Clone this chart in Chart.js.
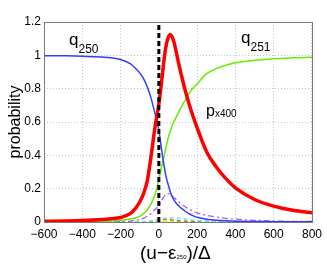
<!DOCTYPE html>
<html>
<head>
<meta charset="utf-8">
<script src="https://cdn.jsdelivr.net/npm/chart.js@4/dist/chart.umd.min.js"></script>
<style>
  body{ margin:0; background:#fff; }
  #wrap{ position:relative; width:327px; height:264px; font-family:"Liberation Sans", Arial, sans-serif; color:#000; }
  canvas{ position:absolute; left:0; top:0; }
  .lab{ position:absolute; line-height:1; white-space:nowrap; }
  .lab span{ position:relative; }
</style>
</head>
<body>
<div id="wrap">
  <canvas id="c" width="327" height="264"></canvas>
  <div class="lab" style="left:69px;top:31px;font-size:17px">q<span style="font-size:12px;top:8px">250</span></div>
  <div class="lab" style="left:241px;top:29px;font-size:17px">q<span style="font-size:12px;top:8px">251</span></div>
  <div class="lab" style="left:206px;top:103px;font-size:16px">p<span style="font-size:10px;top:1px">x400</span></div>
  <div class="lab" style="left:140px;top:243px;font-size:19px">(u−ε<span style="font-size:6px">250</span>)/Δ</div>
</div>
<script>
// u axis grid used for reading values off the picture
const uVals = [-600,-500,-400,-300,-250,-200,-150,-120,-100,-80,-60,-40,-20,0,10,20,30,40,50,60,70,80,100,120,140,160,180,200,250,300,350,400,500,600,700,800];

// p x400 (thick red)
const pX400 = [0.004,0.006,0.009,0.015,0.02,0.027,0.05,0.085,0.12,0.17,0.25,0.40,0.57,0.71,0.80,0.90,1.00,1.07,1.11,1.125,1.11,1.075,0.97,0.87,0.78,0.70,0.63,0.565,0.42,0.33,0.26,0.205,0.135,0.095,0.07,0.055];
// q250 (blue)
const q250 = [0.998,0.997,0.995,0.99,0.985,0.975,0.95,0.92,0.895,0.86,0.81,0.74,0.65,0.55,0.47,0.39,0.32,0.26,0.22,0.18,0.15,0.13,0.10,0.08,0.063,0.048,0.037,0.028,0.016,0.01,0.007,0.005,0.003,0.002,0.001,0.001];
// q251 (green)
const q251 = [0,0,0.001,0.003,0.006,0.01,0.018,0.026,0.034,0.05,0.075,0.11,0.165,0.25,0.31,0.36,0.41,0.46,0.51,0.545,0.58,0.605,0.65,0.695,0.735,0.775,0.805,0.83,0.89,0.92,0.94,0.955,0.97,0.98,0.985,0.988];
// small curves near the bottom
const purple = [0,0,0,0.001,0.001,0.002,0.005,0.01,0.015,0.022,0.035,0.05,0.075,0.10,0.12,0.14,0.158,0.168,0.17,0.165,0.155,0.145,0.125,0.105,0.09,0.075,0.065,0.055,0.04,0.03,0.022,0.017,0.01,0.006,0.004,0.003];
const cyan = [0,0,0,0,0,0,0,0,0.001,0.002,0.004,0.007,0.011,0.016,0.019,0.021,0.023,0.024,0.025,0.025,0.025,0.024,0.022,0.019,0.016,0.013,0.011,0.009,0.006,0.004,0.003,0.002,0.001,0,0,0];
const brown = [0,0,0,0,0,0,0,0,0,0.001,0.003,0.006,0.01,0.014,0.016,0.017,0.017,0.016,0.015,0.014,0.012,0.011,0.008,0.006,0.004,0.003,0.002,0.001,0,0,0,0,0,0,0,0];
const yellow = [0,0,0,0,0,0,0,0,0,0,0.001,0.001,0.002,0.003,0.003,0.004,0.004,0.004,0.004,0.004,0.004,0.004,0.004,0.004,0.004,0.003,0.003,0.003,0.003,0.002,0.002,0.002,0.002,0.001,0.001,0.001];

const zeroLineU = [0,0];
const zeroLineP = [0,1.2];

const xTicks = [-600,-400,-200,0,200,400,600,800];
const yTicks = [0,0.2,0.4,0.6,0.8,1,1.2];

function pts(ys){ return uVals.map((u,i)=>({x:u, y:ys[i]})); }
function line(label, ys, color, width, dash){
  return { label, data:pts(ys), borderColor:color, borderWidth:width, borderDash:dash||[], pointRadius:0, fill:false, cubicInterpolationMode:'monotone' };
}

const framePlugin = {
  id:'frame',
  afterDraw(chart){
    const a = chart.chartArea, ctx = chart.ctx;
    ctx.save();
    ctx.strokeStyle = '#7a7a7a'; ctx.lineWidth = 1;
    ctx.strokeRect(Math.round(a.left)+0.5, Math.round(a.top)+0.5, Math.round(a.right-a.left), Math.round(a.bottom-a.top));
    ctx.restore();
  }
};

new Chart(document.getElementById('c').getContext('2d'), {
  type:'line',
  data:{
    datasets:[
      { label:'zero', data:zeroLineU.map((u,i)=>({x:u,y:zeroLineP[i]})), borderColor:'#000', borderWidth:3, borderDash:[5,3], pointRadius:0, fill:false },
      line('p x400', pX400, '#ff0000', 3.5),
      line('q250', q250, '#2f3fff', 1.5),
      line('q251', q251, '#62ee00', 1.5),
      line('purple', purple, '#b455ff', 1.3, [6,3,2,3]),
      line('cyan', cyan, '#66eeee', 1.5, [4,3]),
      line('brown', brown, '#b87a33', 1.5, [4,3]),
      line('yellow', yellow, '#e8e800', 1.5, [4,3])
    ]
  },
  options:{
    responsive:false, animation:false, devicePixelRatio:1,
    layout:{ padding:{ top:22, right:13, left:0, bottom:0 } },
    plugins:{ legend:{display:false}, tooltip:{enabled:false} },
    scales:{
      x:{
        type:'linear', min:-600, max:800,
        afterBuildTicks(s){ s.ticks = xTicks.map(v=>({value:v})); },
        afterFit(s){ s.height = 42; },
        ticks:{ color:'#000', font:{family:'Liberation Sans', size:12}, padding:5, maxRotation:0,
          callback:v=> v<0 ? '−'+Math.abs(v) : String(v) },
        grid:{ color:'#c8c8c8', lineWidth:1, drawTicks:false },
        border:{ display:false, dash:[1,2] }
      },
      y:{
        min:0, max:1.2,
        afterBuildTicks(s){ s.ticks = yTicks.map(v=>({value:v})); },
        afterFit(s){ s.width = 44; },
        ticks:{ color:'#000', font:{family:'Liberation Sans', size:12}, padding:3,
          callback:v=> String(Math.round(v*10)/10) },
        grid:{ color:'#c8c8c8', lineWidth:1, drawTicks:false },
        border:{ display:false, dash:[1,2] },
        title:{ display:true, text:'probability', color:'#000', font:{family:'Liberation Sans', size:16}, padding:{top:6,bottom:0} }
      }
    }
  },
  plugins:[framePlugin]
});
</script>
</body>
</html>
